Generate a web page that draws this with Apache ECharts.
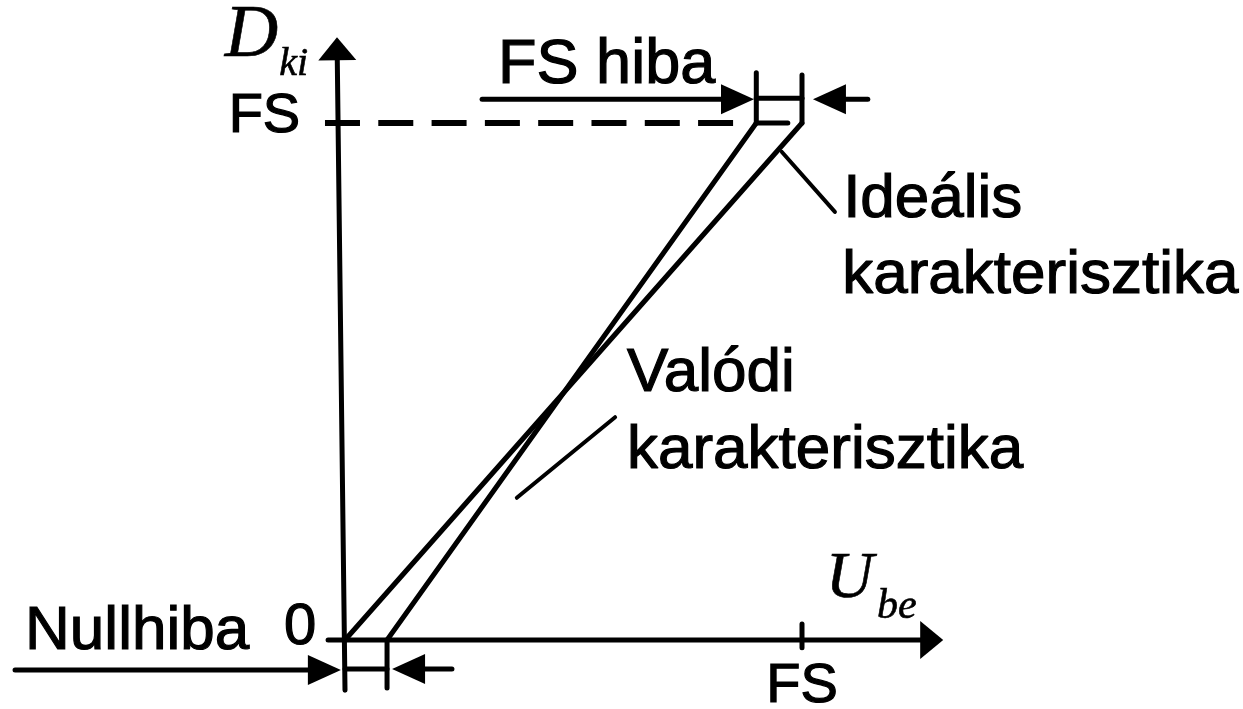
<!DOCTYPE html>
<html><head><meta charset="utf-8">
<script src="https://cdn.jsdelivr.net/npm/echarts@6/dist/echarts.min.js"></script>
<style>html,body{margin:0;padding:0;background:#fff}#c{width:1243px;height:709px}</style>
</head><body><div id="c"></div><script>
// ---- DATA (units of full scale: origin = 0, FS = 1) ----
const idealChar = [[0, 0], [1, 1]];          // Ideális karakterisztika
const realChar = [[0.092, 0], [0.9, 1]];     // Valódi karakterisztika
const zeroErr = [0, 0.092];                  // Nullhiba: ideal / real start on U axis
const fsErr = [0.9, 1];                      // FS hiba: real / ideal end at D = FS
const xTickVals = [0, 1];
const xTickLabels = ['0', 'FS'];
const yTickVals = [1];
const yTickLabels = ['FS'];
const labelTexts = ['FS hiba', 'Ideális', 'karakterisztika', 'Valódi', 'karakterisztika', 'Nullhiba'];

// ---- LAYOUT / STYLE ----
const W = 1243, H = 709, OX = 345, OY = 640, SX = 457, SY = 517;
const K = { solid: 0, dash: 1, axisArrow: 2, arrow: 3, thin: 4 };
const segStyle = {
  0: { w: 5 }, 1: { w: 6, dash: [35, 18.3] }, 2: { w: 5, head: [23, 19] },
  3: { w: 5, head: [33, 15] }, 4: { w: 4 }
};
const segs = [
  [-0.037, 0, 1.309, 0, K.axisArrow],                 // U axis
  [0, -0.097, -0.0175, 1.166, K.axisArrow],           // D axis
  [xTickVals[1], 0.031, xTickVals[1], -0.015, K.solid],
  [-0.0438, yTickVals[0], 0.853, yTickVals[0], K.dash],
  [fsErr[0], 1, 0.969, 1, K.solid],
  [fsErr[0], 1, fsErr[0], 1.097, K.solid],
  [fsErr[1], 1, fsErr[1], 1.093, K.solid],
  [fsErr[0], 1.048, fsErr[1], 1.048, K.solid],
  [0.30, 1.046, 0.895, 1.046, K.arrow],
  [1.144, 1.046, 1.024, 1.046, K.arrow],
  [zeroErr[1], 0, zeroErr[1], -0.093, K.solid],
  [zeroErr[0], -0.056, zeroErr[1], -0.056, K.solid],
  [-0.722, -0.058, -0.009, -0.058, K.arrow],
  [0.234, -0.056, 0.103, -0.056, K.arrow],
  [0.956, 0.944, 1.072, 0.828, K.thin],
  [0.591, 0.431, 0.376, 0.275, K.thin]
];
const SANS = '"Liberation Sans", Arial, sans-serif';
const SERIF = '"Liberation Serif", "Times New Roman", serif';
const notes = [
  { t: labelTexts[0], at: [0.335, 1.068], fs: 63, f: SANS, a: 'left' },
  { t: labelTexts[1], at: [1.090, 0.809], fs: 62, f: SANS, a: 'left' },
  { t: labelTexts[2], at: [1.088, 0.662], fs: 62, f: SANS, a: 'left' },
  { t: labelTexts[3], at: [0.617, 0.474], fs: 62, f: SANS, a: 'left' },
  { t: labelTexts[4], at: [0.617, 0.325], fs: 62, f: SANS, a: 'left' },
  { t: labelTexts[5], at: [-0.700, -0.025], fs: 62, f: SANS, a: 'left' },
  { t: xTickLabels[0], at: [-0.063, -0.015], fs: 58, f: SANS, a: 'right' },
  { t: xTickLabels[1], at: [xTickVals[1], -0.127], fs: 56, f: SANS, a: 'center' },
  { t: yTickLabels[0], at: [-0.098, 0.975], fs: 56, f: SANS, a: 'right' },
  { t: 'D', at: [-0.263, 1.118], fs: 74, f: SERIF, a: 'left', it: true },
  { t: 'ki', at: [-0.144, 1.087], fs: 40, f: SERIF, a: 'left', it: true },
  { t: 'U', at: [1.052, 0.0735], fs: 66, f: SERIF, a: 'left', it: true },
  { t: 'be', at: [1.164, 0.036], fs: 42, f: SERIF, a: 'left', it: true }
];

const chart = echarts.init(document.getElementById('c'), null, { renderer: 'canvas' });
const lineBase = { type: 'line', symbol: 'none', clip: false, silent: true, animation: false,
  lineStyle: { color: '#000', width: 5, cap: 'round' } };

function renderSeg(params, api) {
  const p1 = api.coord([api.value(0), api.value(1)]);
  const p2 = api.coord([api.value(2), api.value(3)]);
  const st = segStyle[api.value(4)];
  const children = [];
  let end = p2;
  if (st.head) {
    const dx = p2[0] - p1[0], dy = p2[1] - p1[1], L = Math.hypot(dx, dy);
    const ux = dx / L, uy = dy / L, nx = -uy, ny = ux;
    const [hl, hw] = st.head;
    const bx = p2[0] - ux * hl, by = p2[1] - uy * hl;
    end = [p2[0] - ux * hl * 0.7, p2[1] - uy * hl * 0.7];
    children.push({ type: 'polygon', shape: { points: [p2, [bx + nx * hw, by + ny * hw], [bx - nx * hw, by - ny * hw]] },
      style: { fill: '#000' } });
  }
  children.unshift({ type: 'line', shape: { x1: p1[0], y1: p1[1], x2: end[0], y2: end[1] },
    style: { stroke: '#000', lineWidth: st.w, lineDash: st.dash || null, lineCap: st.dash ? 'butt' : 'round' } });
  return { type: 'group', children };
}
function renderNote(params, api) {
  const n = notes[api.value(2)];
  const p = api.coord([api.value(0), api.value(1)]);
  return { type: 'text', x: p[0], y: p[1] - 0.345 * n.fs,
    style: { text: n.t, font: (n.it ? 'italic ' : '') + n.fs + 'px ' + n.f, fill: '#000',
      stroke: '#000', lineWidth: n.it ? 0.6 : 1.2, align: n.a, verticalAlign: 'middle' } };
}

chart.setOption({
  animation: false,
  backgroundColor: '#fff',
  grid: { left: 0, right: 0, top: 0, bottom: 0 },
  xAxis: { type: 'value', min: -OX / SX, max: (W - OX) / SX, show: false },
  yAxis: { type: 'value', min: -(H - OY) / SY, max: OY / SY, show: false },
  series: [
    Object.assign({ name: 'Ideális karakterisztika', data: idealChar }, lineBase),
    Object.assign({ name: 'Valódi karakterisztika', data: realChar }, lineBase),
    { type: 'custom', silent: true, clip: false, renderItem: renderSeg, data: segs,
      encode: { x: [0, 2], y: [1, 3] } },
    { type: 'custom', silent: true, clip: false, renderItem: renderNote,
      data: notes.map((n, i) => [n.at[0], n.at[1], i]), encode: { x: 0, y: 1 } }
  ]
});
</script></body></html>
